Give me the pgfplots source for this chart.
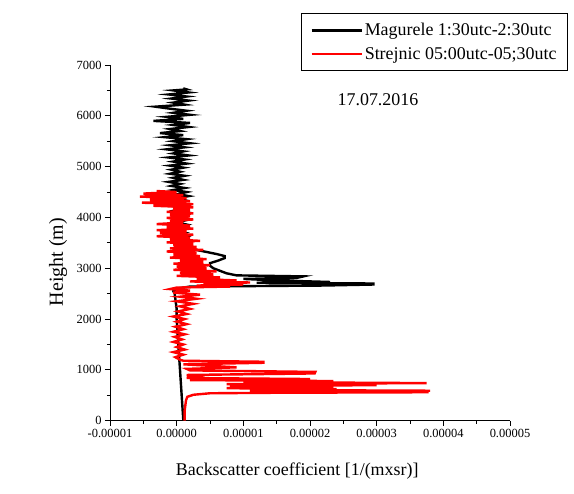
\documentclass[border=0pt]{standalone}
\usepackage{fontspec}
\setmainfont{Liberation Serif}
\usepackage{pgfplots}
\pgfplotsset{compat=1.18}

% backscatter profiles, x in 1/(m sr), y = height in m
\pgfplotstableread{
x y
0.10e-5 0
0.09e-5 200
0.08e-5 400
0.07e-5 600
0.06e-5 800
0.05e-5 1000
0.04e-5 1200
0.03e-5 1400
0.02e-5 1600
0.01e-5 1800
0.00e-5 2000
0.00e-5 2200
-0.02e-5 2400
-0.03e-5 2500
-0.05e-5 2550
0.00e-5 2600
0.20e-5 2640
2.20e-5 2660
2.95e-5 2680
2.95e-5 2700
1.20e-5 2715
2.30e-5 2730
1.50e-5 2760
1.00e-5 2790
1.80e-5 2810
1.90e-5 2840
0.90e-5 2860
0.75e-5 2900
0.65e-5 2950
0.55e-5 3000
0.50e-5 3050
0.50e-5 3100
0.62e-5 3150
0.72e-5 3200
0.72e-5 3240
0.60e-5 3280
0.45e-5 3320
0.30e-5 3360
0.20e-5 3400
0.15e-5 3450
0.10e-5 3500
0.20e-5 3540
0.05e-5 3580
0.15e-5 3620
0.00e-5 3660
0.12e-5 3700
-0.02e-5 3740
0.10e-5 3780
0.02e-5 3820
0.15e-5 3860
0.00e-5 3900
0.12e-5 3940
-0.05e-5 3980
0.10e-5 4020
0.00e-5 4060
0.15e-5 4100
-0.03e-5 4140
0.08e-5 4180
-0.05e-5 4220
0.10e-5 4260
-0.02e-5 4300
0.12e-5 4340
0.00e-5 4380
0.18e-5 4420
0.02e-5 4460
0.15e-5 4500
-0.05e-5 4540
0.12e-5 4580
-0.08e-5 4620
0.05e-5 4660
-0.12e-5 4700
0.10e-5 4740
-0.05e-5 4780
0.12e-5 4820
-0.10e-5 4860
0.05e-5 4900
-0.08e-5 4940
0.10e-5 4980
-0.10e-5 5020
0.15e-5 5060
-0.05e-5 5100
0.12e-5 5140
-0.12e-5 5180
0.18e-5 5220
-0.05e-5 5260
0.10e-5 5300
-0.15e-5 5340
0.12e-5 5380
-0.10e-5 5420
0.20e-5 5460
-0.05e-5 5500
0.15e-5 5540
-0.18e-5 5580
0.10e-5 5620
-0.25e-5 5660
0.05e-5 5700
-0.10e-5 5740
0.18e-5 5780
-0.05e-5 5820
0.20e-5 5860
-0.35e-5 5900
0.10e-5 5940
-0.15e-5 5980
0.20e-5 6020
-0.05e-5 6060
0.15e-5 6100
-0.10e-5 6140
-0.32e-5 6180
0.12e-5 6220
-0.05e-5 6260
0.18e-5 6300
-0.08e-5 6340
0.15e-5 6380
-0.12e-5 6420
0.18e-5 6460
-0.05e-5 6500
0.15e-5 6520
0.10e-5 6540
}\magurele

\pgfplotstableread{
x y
0.12e-5 0
0.12e-5 100
0.12e-5 200
0.13e-5 300
0.14e-5 400
0.16e-5 470
0.25e-5 510
0.50e-5 540
1.50e-5 550
3.78e-5 560
1.10e-5 575
3.80e-5 590
1.10e-5 605
2.40e-5 620
0.75e-5 640
2.35e-5 660
0.80e-5 680
3.00e-5 700
0.75e-5 720
3.75e-5 740
1.00e-5 760
2.35e-5 780
0.20e-5 800
2.00e-5 820
0.15e-5 840
0.30e-5 870
0.15e-5 900
2.07e-5 930
2.08e-5 960
0.20e-5 990
0.15e-5 1020
0.90e-5 1050
0.50e-5 1080
0.10e-5 1110
1.30e-5 1140
1.30e-5 1160
0.10e-5 1180
0.05e-5 1200
-0.02e-5 1250
0.10e-5 1300
-0.05e-5 1350
0.12e-5 1400
0.00e-5 1450
0.10e-5 1500
-0.05e-5 1550
0.08e-5 1600
-0.03e-5 1650
0.12e-5 1700
-0.05e-5 1750
0.10e-5 1800
-0.02e-5 1850
0.15e-5 1900
0.00e-5 1950
0.12e-5 2000
-0.05e-5 2050
0.15e-5 2100
0.02e-5 2150
0.20e-5 2200
0.05e-5 2250
0.25e-5 2300
0.00e-5 2350
0.30e-5 2400
0.05e-5 2440
0.35e-5 2480
-0.05e-5 2520
0.20e-5 2560
-0.10e-5 2590
0.00e-5 2620
0.80e-5 2640
0.30e-5 2660
1.00e-5 2680
0.40e-5 2700
1.10e-5 2720
0.20e-5 2740
0.90e-5 2760
0.30e-5 2790
0.65e-5 2820
0.00e-5 2850
0.55e-5 2880
0.05e-5 2910
0.60e-5 2940
-0.05e-5 2970
0.45e-5 3000
0.00e-5 3030
0.50e-5 3060
-0.05e-5 3090
0.40e-5 3120
0.05e-5 3150
0.45e-5 3180
-0.10e-5 3210
0.35e-5 3240
-0.05e-5 3270
0.30e-5 3300
-0.15e-5 3330
0.40e-5 3360
-0.10e-5 3390
0.30e-5 3420
-0.05e-5 3450
0.25e-5 3480
-0.15e-5 3510
0.35e-5 3540
-0.10e-5 3570
0.20e-5 3600
-0.30e-5 3630
0.25e-5 3660
-0.25e-5 3690
0.15e-5 3720
-0.30e-5 3750
0.25e-5 3780
-0.15e-5 3810
0.20e-5 3840
-0.30e-5 3870
0.10e-5 3900
-0.10e-5 3930
0.25e-5 3960
-0.15e-5 3990
0.20e-5 4020
-0.10e-5 4050
0.25e-5 4080
-0.15e-5 4110
0.20e-5 4140
-0.05e-5 4170
0.25e-5 4200
-0.35e-5 4230
0.25e-5 4260
-0.52e-5 4290
0.20e-5 4320
-0.40e-5 4350
0.15e-5 4380
-0.55e-5 4410
0.10e-5 4440
-0.50e-5 4470
0.00e-5 4500
-0.30e-5 4520
}\strejnic

\begin{document}
\begin{tikzpicture}
\begin{axis}[
    at={(0,0)}, anchor=south west,
    scale only axis,
    width=400bp, height=355.7bp,
    xmin=-0.00001, xmax=0.00005,
    ymin=0, ymax=7000,
    axis lines*=left,
    axis line style={line width=0.9bp},
    xtick={-0.00001,0,0.00001,0.00002,0.00003,0.00004,0.00005},
    ytick={0,1000,2000,3000,4000,5000,6000,7000},
    minor x tick num=1, minor y tick num=1,
    tick align=outside,
    major tick length=5bp, minor tick length=3bp,
    tick style={line width=0.9bp, black},
    scaled x ticks=false, scaled y ticks=false,
    xticklabel style={/pgf/number format/.cd, fixed, fixed zerofill, precision=5, assume math mode=true},
    yticklabel style={/pgf/number format/.cd, 1000 sep={}, assume math mode=true},
    tick label style={font=\fontsize{12.5}{14}\selectfont},
    xlabel={Backscatter coefficient [1/(mxsr)]},
    ylabel={Height (m)},
    xlabel style={font=\fontsize{18}{20}\selectfont, at={(axis description cs:0.468,-0.141)}, anchor=center},
    ylabel style={font=\fontsize{20}{22}\selectfont, at={(axis description cs:-0.13,0.446)}, anchor=center, rotate=0},
    legend style={at={(axis description cs:0.4775,1.146)}, anchor=north west,
        draw=black, line width=0.8bp, font=\fontsize{18}{20}\selectfont,
        inner xsep=9bp, inner ysep=8bp, row sep=6bp},
    legend cell align=left,
    legend image code/.code={\path (0bp,0bp) -- (8bp,0bp); \draw[#1] (8bp,0bp) -- (50bp,0bp);},
]
\addplot[black, line width=2.4bp] table[x=x, y=y] {\magurele};
\addlegendentry{Magurele 1:30utc-2:30utc}
\addplot[red, line width=2.4bp] table[x=x, y=y] {\strejnic};
\addlegendentry{Strejnic 05:00utc-05;30utc}
\node[font=\fontsize{18}{20}\selectfont] at (axis description cs:0.67,0.9016) {17.07.2016};
\end{axis}
\path[use as bounding box] (-110bp,-73.3bp) rectangle (464bp,420.7bp);
\end{tikzpicture}
\end{document}
